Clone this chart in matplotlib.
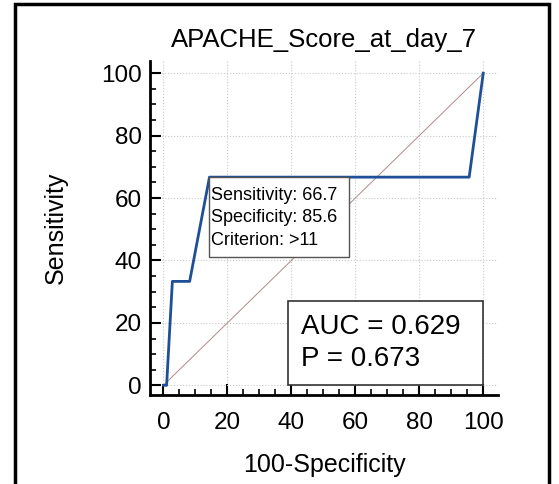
import matplotlib
matplotlib.use("Agg")
import matplotlib.pyplot as plt
from matplotlib.patches import Rectangle
from matplotlib.ticker import MultipleLocator

# ROC curve points (100-Specificity, Sensitivity)
fpr = [0, 1.0, 2.8, 8.2, 14.4, 95.6, 100]
tpr = [0, 0, 33.3, 33.3, 66.7, 66.7, 100]
title = "APACHE_Score_at_day_7"
sens, spec, crit = 66.7, 85.6, ">11"
auc, pval = 0.629, 0.673

plt.rcParams['font.family'] = ['Liberation Sans', 'DejaVu Sans']

fig = plt.figure(figsize=(5.59, 4.84), dpi=100)
fig.patches.append(Rectangle((0.026, -0.1), 0.957, 1.091, transform=fig.transFigure,
                             fill=False, edgecolor='black', linewidth=2.5))

ax = fig.add_axes([0.2683, 0.1839, 0.6225, 0.690])
ax.plot([0, 100], [0, 100], color='#b08a8a', linewidth=0.7)
ax.plot(fpr, tpr, color='#1f4f96', linewidth=2)

ax.set_xlim(-4.2, 104.6)
ax.set_ylim(-3.1, 103.9)
ax.xaxis.set_major_locator(MultipleLocator(20))
ax.yaxis.set_major_locator(MultipleLocator(20))
ax.xaxis.set_minor_locator(MultipleLocator(5))
ax.yaxis.set_minor_locator(MultipleLocator(5))
ax.tick_params(which='major', direction='in', length=8, width=1.5, labelsize=17.5, pad=6)
ax.tick_params(which='minor', direction='in', length=4.5, width=1.2)
ax.tick_params(axis='x', which='major', pad=12)
for s in ['top', 'right']:
    ax.spines[s].set_visible(False)
for s in ['left', 'bottom']:
    ax.spines[s].set_linewidth(2)
ax.grid(True, which='major', linestyle=':', color='#c8c8c8', linewidth=0.8)

ax.set_title(title, fontsize=18.5, pad=10)
ax.set_xlabel("100-Specificity", fontsize=18, labelpad=14)
ax.set_ylabel("Sensitivity", fontsize=18, labelpad=24)

# criterion box, anchored at the optimal point
bx, by = 100 - spec, sens
ax.add_patch(Rectangle((bx, by - 25.6), 43.7, 25.6, facecolor='white',
                       edgecolor='#555555', linewidth=1, zorder=3))
ax.text(bx + 0.4, by - 3.0, "Sensitivity: %.1f\nSpecificity: %.1f\nCriterion: %s" % (sens, spec, crit),
        fontsize=13, va='top', ha='left', linespacing=1.45, zorder=4)

# AUC box
ax.add_patch(Rectangle((38.8, 0), 61.2, 26.9, facecolor='white',
                       edgecolor='#333333', linewidth=1.2, zorder=3))
ax.text(43.1, 13.4, "AUC = %.3f\nP = %.3f" % (auc, pval), fontsize=20, va='center', ha='left',
        linespacing=1.3, zorder=4)

fig.savefig("out.png", dpi=100)
